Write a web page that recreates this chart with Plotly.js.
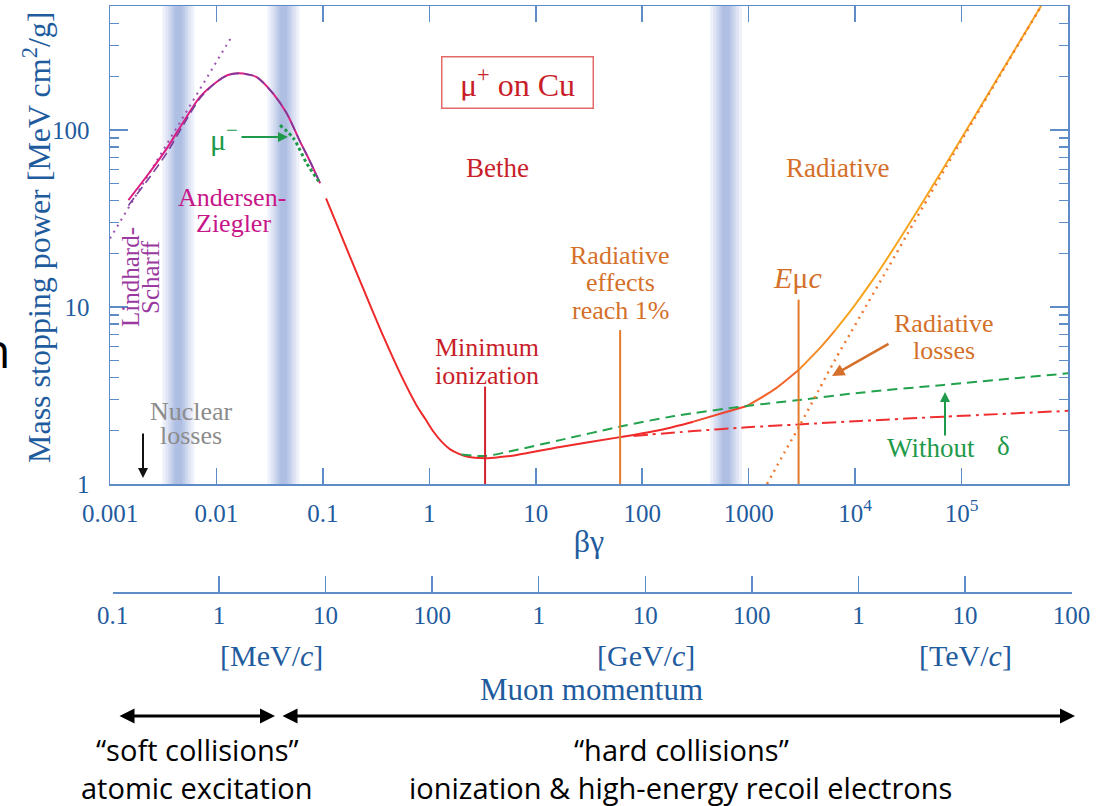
<!DOCTYPE html>
<html>
<head>
<meta charset="utf-8">
<script src="https://cdn.plot.ly/plotly-3.0.1.min.js"></script>
<style>
  html, body { margin: 0; padding: 0; background: #ffffff; }
  #chart { width: 1112px; height: 806px; }
</style>
</head>
<body>
<div id="chart"></div>
<script>
// Mass stopping power (MeV cm²/g) of μ+ in copper versus βγ.

// Andersen–Ziegler low-energy region
const azBetaGamma = [0.00149, 0.00238, 0.00341, 0.00489, 0.00701, 0.0101, 0.01285, 0.0161, 0.0198, 0.0239, 0.0343, 0.0458, 0.0611, 0.0759, 0.0942];
const azStopping  = [40.2, 58.1, 78.5, 111, 154, 187.5, 204.5, 209, 206, 199, 160, 124, 86, 66.2, 50];

// Lindhard–Scharff (∝ β) and its dashed companion
const lsBetaGamma = [0.001, 0.0139];
const lsStopping  = [24.4, 337];
const lsDashBetaGamma = [0.00149, 0.00238, 0.00341, 0.00489, 0.00701, 0.0101, 0.01285, 0.0161, 0.0198, 0.0239, 0.0343, 0.0458, 0.0611, 0.0759, 0.0942];
const lsDashStopping  = [37.5, 54.5, 74, 107, 151, 187.5, 204.5, 209, 206, 199, 160, 124, 86, 66.2, 50];

// μ− (Barkas correction) near the Bethe hand-over
const muMinusBetaGamma = [0.0396, 0.0529, 0.0705, 0.0942];
const muMinusStopping  = [106.7, 89.8, 64.8, 50];

// Bethe region continuing into the total including radiative losses
const totalBetaGamma = [0.107, 0.135, 0.18, 0.258, 0.371, 0.532, 0.762, 0.92, 1.09, 1.31, 1.57, 1.9, 2.25, 3.34, 4.6, 6.64, 16.9, 62.1, 147.6, 303, 625, 964, 1715, 2944, 4710, 6516, 9016, 11190, 15000, 20000, 30700, 50000, 84300, 150000, 231700, 400000, 550800, 700000];
const totalStopping  = [41.1, 29.3, 19.2, 11.4, 6.8, 4.22, 2.77, 2.32, 1.98, 1.73, 1.57, 1.48, 1.43, 1.40, 1.42, 1.46, 1.62, 1.84, 2.02, 2.25, 2.56, 2.76, 3.40, 4.41, 5.90, 7.41, 9.48, 11.3, 14.5, 18.8, 28.1, 45.2, 75.8, 134.8, 208.3, 359.5, 495, 629];
// the curve shifts from red to orange; segment k runs between consecutive break indices
const totalBreaks  = [0, 19, 21, 23, 25, totalBetaGamma.length - 1];
const totalColours = ['#ef2a2b', '#f0462c', '#f2662b', '#f58a25', '#f7a41f'];

// Ionization only (no radiative losses)
const ionBetaGamma = [83, 300, 964, 2944, 11190, 67900, 1e6];
const ionStopping  = [1.87, 1.99, 2.09, 2.17, 2.27, 2.40, 2.59];

// Without density effect δ
const noDeltaBetaGamma = [2.0, 3.34, 6.64, 16.9, 62.1, 200, 964, 2944, 11190, 67900, 1e6];
const noDeltaStopping  = [1.47, 1.44, 1.56, 1.77, 2.11, 2.42, 2.76, 2.98, 3.28, 3.63, 4.22];

// Radiative losses alone
const radBetaGamma = [1486, 2200, 3055, 4500, 6500, 9016, 11190, 20000, 30700, 50000, 84300, 150000, 231700, 400000, 700000];
const radStopping  = [1.0, 1.53, 2.17, 3.35, 5.05, 7.1, 8.9, 16.3, 25.6, 42.7, 73.4, 132.3, 205.8, 357, 626];

// Markers: minimum ionization, radiative effects reach 1 %, critical energy Eμc
const markerBetaGamma = [3.34, 62, 2944];
const markerTop       = [3.55, 7.4, 11.0];
const markerColours   = ['#d3202a', '#e27b2c', '#e27b2c'];

// Shaded regions at the transitions between descriptions
const bandCentres = [0.00439, 0.0426, 612];

// Axis ticks
const bgTicks = [0.001, 0.01, 0.1, 1, 10, 100, 1000, 1e4, 1e5];
const bgTickText = ['0.001', '0.01', '0.1', '1', '10', '100', '1000', '10<sup>4</sup>', '10<sup>5</sup>'];
const stopTicks = [1, 10, 100];
const stopTickText = ['1', '10', '100'];
const stopMinor = [2, 3, 4, 5, 6, 7, 8, 9, 20, 30, 40, 50, 60, 70, 80, 90, 200, 300, 400, 500];
const momentumTicksMeV = [0.1, 1, 10, 100, 1e3, 1e4, 1e5, 1e6, 1e7, 1e8];
const momentumTickText = ['0.1', '1', '10', '100', '1', '10', '100', '1', '10', '100'];

const serif = '"Liberation Serif", "Times New Roman", serif';
const sans = '"Open Sans", "Noto Sans", sans-serif';
const axisBlue = '#5d8cc6';
const textBlue = '#1f5c9e';
const red = '#c81e2a';
const orange = '#d4702a';
const green = '#1e9a4a';
const magenta = '#c8168a';

function line(x, y, color, width, dash, shape) {
  return {
    x, y, type: 'scatter', mode: 'lines', hoverinfo: 'skip',
    line: { color, width, dash: dash || 'solid', shape: shape || 'spline', smoothing: 0.8 }
  };
}

const traces = [];
traces.push(line(lsBetaGamma, lsStopping, '#9b4fb0', 2, '2px,5px', 'linear'));
traces.push(line(azBetaGamma, azStopping, '#dc1e84', 2));
traces.push(line(lsDashBetaGamma, lsDashStopping, '#7a3c9a', 1.6, '9px,5px'));
traces.push(line(muMinusBetaGamma, muMinusStopping, '#1e9a4a', 3, '3px,3px'));
totalColours.forEach((c, i) => {
  const a = totalBreaks[i], b = totalBreaks[i + 1] + 1;
  traces.push(line(totalBetaGamma.slice(a, b), totalStopping.slice(a, b), c, 2));
});
traces.push(line(noDeltaBetaGamma, noDeltaStopping, '#22a24c', 2, '10px,6px'));
traces.push(line(ionBetaGamma, ionStopping, '#f02e30', 2, '14px,5px,3px,5px'));
traces.push(line(radBetaGamma, radStopping, '#f07a30', 2.5, '2px,5px'));
markerBetaGamma.forEach((bg, i) => {
  traces.push(line([bg, bg], [1, markerTop[i]], markerColours[i], 2, 'solid', 'linear'));
});
// carries the muon-momentum axis below the plot
traces.push({ x: momentumTicksMeV, y: momentumTicksMeV.map(() => 0.5), xaxis: 'x2', yaxis: 'y2',
  type: 'scatter', mode: 'none', hoverinfo: 'skip' });

// translucent layers build a soft-edged band
const shapes = [];
const bandHalfWidths = [0.15, 0.12, 0.095, 0.075, 0.058, 0.044, 0.032];
bandCentres.forEach(c => {
  bandHalfWidths.forEach(h => {
    shapes.push({
      type: 'rect', layer: 'below', xref: 'x', yref: 'y domain',
      x0: c / Math.pow(10, h), x1: c * Math.pow(10, h), y0: 0, y1: 1,
      fillcolor: '#8ea2d6', opacity: 0.15, line: { width: 0 }
    });
  });
});

// paper placement helper for text (pixel position within the 1112×806 page)
const ML = 110, MR = 30, MT = 6, MB = 0, W = 1112, H = 806;
const PW = W - ML - MR, PH = H - MT - MB;
function at(px, py) { return { x: (px - ML) / PW, y: (H - MB - py) / PH, xref: 'paper', yref: 'paper' }; }
function label(text, px, py, color, size, extra) {
  return Object.assign({ text, showarrow: false, xanchor: 'center', yanchor: 'middle',
    font: { family: serif, size, color } }, at(px, py), extra || {});
}
function note(text, px, py, size, extra) {
  return Object.assign({ text, showarrow: false, xanchor: 'center', yanchor: 'middle',
    font: { family: sans, size, color: '#000000' } }, at(px, py), extra || {});
}
function arrow(px, py, ax, ay, color, width, extra) {
  return Object.assign({ text: '', showarrow: true, arrowhead: 2, arrowsize: 1,
    arrowwidth: width, arrowcolor: color, ax, ay }, at(px, py), extra || {});
}

const annotations = [
  label('Mass stopping power [MeV cm<sup>2</sup>/g]', 37, 238, textBlue, 32, { textangle: -90 }),
  label('μ<sup>+</sup> on Cu', 517, 83, red, 32, { bordercolor: '#e46a6a', borderwidth: 1.5, borderpad: 7, width: 136, height: 36 }),
  label('Bethe', 497, 168, red, 27),
  label('Radiative', 837, 168, orange, 27),
  label('Andersen-', 232, 197, magenta, 26),
  label('Ziegler', 233, 224, magenta, 26),
  label('μ<sup>−</sup>', 224, 137, green, 30),
  arrow(288, 137, -48, 0, green, 2),
  label('Lindhard-', 130, 277, '#9a3aa0', 25, { textangle: -90 }),
  label('Scharff', 150, 277, '#9a3aa0', 25, { textangle: -90 }),
  label('Nuclear', 191, 411, '#8c8c8c', 26),
  label('losses', 191, 435, '#8c8c8c', 26),
  arrow(143, 478, 0, -46, '#111111', 2),
  label('Minimum', 487, 347, red, 26),
  label('ionization', 487, 375, red, 26),
  label('Radiative', 620, 255, orange, 26),
  label('effects', 620, 283, orange, 26),
  label('reach 1%', 620, 310, orange, 26),
  label('<i>E</i>μ<i>c</i>', 797, 277, orange, 30),
  label('Radiative', 944, 323, orange, 26),
  label('losses', 944, 350, orange, 26),
  arrow(832, 376, 58, -33, '#d4702a', 2.5),
  label('Without', 931, 448, green, 27),
  label('δ', 1003, 446, green, 27),
  arrow(945, 392, 0, 45, green, 2),
  label('[MeV/<i>c</i>]', 271, 655, textBlue, 30),
  label('[GeV/<i>c</i>]', 646, 655, textBlue, 30),
  label('[TeV/<i>c</i>]', 965, 655, textBlue, 30),
  label('Muon momentum', 591, 689, textBlue, 31),
  arrow(275, 716, -157, 0, '#000000', 3, { arrowside: 'end+start' }),
  arrow(1075, 716, -794, 0, '#000000', 3, { arrowside: 'end+start' }),
  note('“soft collisions”', 197, 749, 29),
  note('atomic excitation', 197, 787, 29),
  note('“hard collisions”', 681, 749, 29),
  note('ionization &amp; high-energy recoil electrons', 680, 787, 29),
  note('n', 12, 349, 48, { xanchor: 'right' })
];

const axisCommon = {
  showline: true, linecolor: axisBlue, linewidth: 1.5,
  ticks: 'inside', tickcolor: axisBlue, tickwidth: 1.5,
  showgrid: false, zeroline: false,
  tickfont: { family: serif, size: 25, color: textBlue }
};

const layout = {
  width: W, height: H,
  margin: { l: ML, r: MR, t: MT, b: MB },
  paper_bgcolor: '#ffffff', plot_bgcolor: '#ffffff',
  showlegend: false,
  xaxis: Object.assign({}, axisCommon, {
    type: 'log', range: [-3, 6], domain: [0, 958 / PW], anchor: 'y',
    mirror: 'ticks', ticklen: 16,
    tickmode: 'array', tickvals: bgTicks, ticktext: bgTickText,
    ticklabelstandoff: 6,
    title: { text: 'βγ', font: { family: serif, size: 32, color: textBlue }, standoff: 4 }
  }),
  yaxis: Object.assign({}, axisCommon, {
    type: 'log', range: [0, 2.7006], domain: [(H - MB - 484) / PH, 1], anchor: 'x',
    mirror: 'ticks', ticklen: 18,
    tickmode: 'array', tickvals: stopTicks, ticktext: stopTickText,
    ticklabelstandoff: 14,
    minor: { tickmode: 'array', tickvals: stopMinor, ticks: 'inside', ticklen: 9, tickwidth: 1.5, tickcolor: axisBlue, showgrid: false }
  }),
  xaxis2: Object.assign({}, axisCommon, {
    type: 'log', range: [-1, 8], domain: [2.5 / PW, 961.5 / PW], anchor: 'y2',
    ticklen: 16, tickmode: 'array', tickvals: momentumTicksMeV, ticktext: momentumTickText,
    ticklabelstandoff: 0
  }),
  yaxis2: { domain: [(H - MB - 592) / PH, (H - MB - 500) / PH], anchor: 'x2', visible: false, range: [0, 1] },
  shapes, annotations
};

Plotly.newPlot('chart', traces, layout, { displayModeBar: false, staticPlot: true });
</script>
</body>
</html>
